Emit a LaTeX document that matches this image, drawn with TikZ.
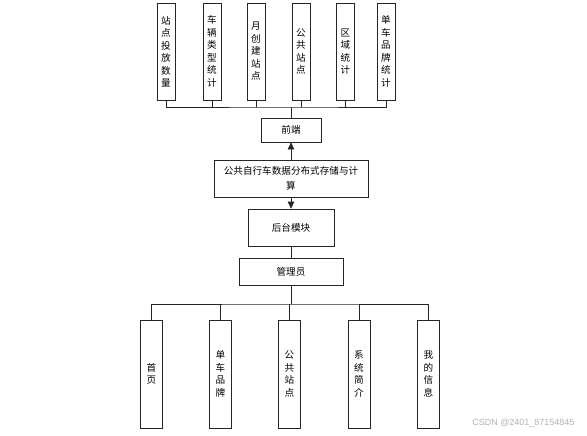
\documentclass[tikz,border=0pt]{standalone}
\usepackage{fontspec}
\newfontfamily\cjk{Noto Sans CJK SC}
\newfontfamily\wmfont{Liberation Sans}
\usetikzlibrary{
    positioning,
    arrows.meta
}
\tikzset{
    >={Triangle[length=7pt,width=6.5pt]},
    caja/.style={
        draw=black!85,
        line width=0.7pt,
        inner sep=0pt,
        align=center,
        font=\cjk\fontsize{9.6}{15}\selectfont
    },
    vcaja/.style={
        caja,
        minimum width=18pt,
        font=\cjk\fontsize{9.6}{12.5}\selectfont
    },
    linea/.style={
        draw=black!85,
        line width=0.7pt
    }
}

\begin{document}
\begin{tikzpicture}[
    x=1pt,
    y=-1pt
]
    \useasboundingbox (0,0) rectangle (587,436);

    % Estadisticas (arriba)
    \node[vcaja, minimum height=97pt] (t1) at (166,51.5) {站\\点\\投\\放\\数\\量};
    \node[vcaja, minimum height=97pt] (t2) at (212,51.5) {车\\辆\\类\\型\\统\\计};
    \node[vcaja, minimum height=97pt] (t3) at (256,51.5) {月\\创\\建\\站\\点};
    \node[vcaja, minimum height=97pt] (t4) at (301,51.5) {公\\共\\站\\点};
    \node[vcaja, minimum height=97pt] (t5) at (345.5,51.5) {区\\域\\统\\计};
    \node[vcaja, minimum height=97pt] (t6) at (386,51.5) {单\\车\\品\\牌\\统\\计};

    % Modulos centrales
    \node[caja, minimum width=60pt, minimum height=24pt]  (front) at (291,130)   {前端};
    \node[caja, minimum width=154pt, minimum height=37pt] (store) at (291,178.5) {公共自行车数据分布式存储与计\\算};
    \node[caja, minimum width=86pt, minimum height=37pt]  (back)  at (291,227.5) {后台模块};
    \node[caja, minimum width=104pt, minimum height=27pt] (admin) at (291,271.5) {管理员};

    % Paginas (abajo)
    \node[vcaja, minimum width=22pt, minimum height=108pt] (b1) at (151.5,374) {首\\页};
    \node[vcaja, minimum width=22pt, minimum height=108pt] (b2) at (220.5,374) {单\\车\\品\\牌};
    \node[vcaja, minimum width=22pt, minimum height=108pt] (b3) at (289.5,374) {公\\共\\站\\点};
    \node[vcaja, minimum width=22pt, minimum height=108pt] (b4) at (359,374)   {系\\统\\简\\介};
    \node[vcaja, minimum width=22pt, minimum height=108pt] (b5) at (428.5,374) {我\\的\\信\\息};

    % Marca de agua
    \node[anchor=east, text=black!30, font=\wmfont\fontsize{9}{11}\selectfont] (marca) at (578,423) {CSDN @2401\_87154845};

    % Buses
    \coordinate (topbus) at (291,107);
    \coordinate (botbus) at (291,304);

    % Conexiones
    \draw[linea] (t1.south) |- (topbus) -| (t6.south);
    \foreach \n in {t2,t3,t4,t5}
        \draw[linea] (\n.south) -- (\n.south |- topbus);
    \draw[linea] (topbus) -- (front.north);

    \draw[linea, ->] (store.north) -- (front.south);
    \draw[linea, ->] (store.south) -- (back.north);
    \draw[linea] (back.south) -- (admin.north);

    \draw[linea] (admin.south) -- (botbus);
    \draw[linea] (b1.north) |- (botbus) -| (b5.north);
    \foreach \n in {b2,b3,b4}
        \draw[linea] (\n.north) -- (\n.north |- botbus);

\end{tikzpicture}
\end{document}
